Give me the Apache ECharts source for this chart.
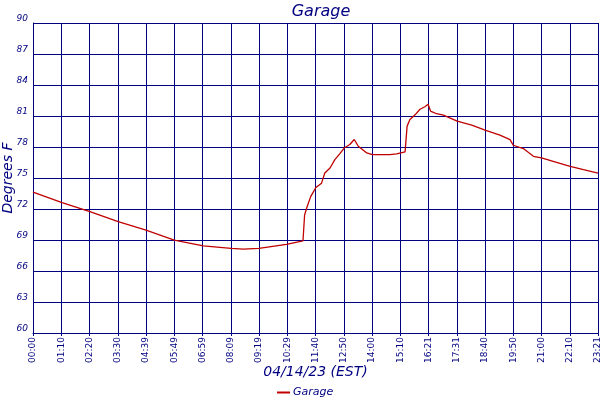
<!DOCTYPE html>
<html>
<head>
<meta charset="utf-8">
<script src="https://cdn.jsdelivr.net/npm/echarts@6/dist/echarts.min.js"></script>
<style>
  html, body { margin: 0; padding: 0; background: #fff; }
  #main { width: 600px; height: 400px; }
</style>
</head>
<body>
<div id="main"></div>
<script>
// time ticks every 70 minutes, as printed under the chart
var tickLabels = ['00:00', '01:10', '02:20', '03:30', '04:39', '05:49', '06:59', '08:09', '09:19', '10:29',
  '11:40', '12:50', '14:00', '15:10', '16:21', '17:31', '18:40', '19:50', '21:00', '22:10', '23:21'];

// minutes since midnight
var minutes = [0, 72, 141, 211, 280, 350, 422, 491, 521, 560, 628, 669, 672,
  673, 678, 688, 701, 715, 723, 736, 748, 760, 771, 785, 796, 806, 827, 841, 884, 901, 922, 924,
  927, 934, 946, 959, 971, 979, 985, 1000, 1017, 1051, 1087, 1122, 1157, 1182, 1190, 1215,
  1240, 1260, 1289, 1331, 1364, 1400];

// garage temperature, degrees F
var temps = [73.63, 72.62, 71.74, 70.77, 69.96, 68.99, 68.43, 68.18, 68.11, 68.18, 68.57, 68.92, 68.96,
  71.42, 72.07, 73.2, 74.08, 74.5, 75.48, 75.97, 76.78, 77.33, 77.9, 78.24, 78.73, 78.07, 77.43, 77.26, 77.26, 77.33, 77.53, 77.53,
  80.02, 80.67, 81.09, 81.65, 81.9, 82.13, 81.48, 81.22, 81.09, 80.5, 80.12, 79.6, 79.14, 78.72, 78.17, 77.85,
  77.1, 76.94, 76.61, 76.12, 75.8, 75.48];

var navy = '#000080';
var chart = echarts.init(document.getElementById('main'));

var points = [];
for (var i = 0; i < minutes.length; i++) {
  points.push([minutes[i], temps[i]]);
}

var option = {
  backgroundColor: '#fff',
  animation: false,
  title: {
    text: 'Garage',
    left: 316,
    textAlign: 'center',
    top: -1,
    textStyle: {
      color: navy,
      fontFamily: 'DejaVu Sans',
      fontStyle: 'italic',
      fontWeight: 'normal',
      fontSize: 16
    }
  },
  legend: {
    bottom: -3,
    left: 272,
    icon: 'rect',
    itemWidth: 13,
    itemHeight: 2,
    itemGap: 4,
    textStyle: {
      color: navy,
      fontFamily: 'DejaVu Sans',
      fontStyle: 'italic',
      fontSize: 11,
      padding: [0, 0, 0, -2]
    },
    data: ['Garage']
  },
  grid: {
    left: 33,
    right: 2,
    top: 23,
    bottom: 67,
    outerBoundsMode: 'none'
  },
  xAxis: {
    type: 'value',
    min: 0,
    max: 1400,
    interval: 70,
    name: '04/14/23 (EST)',
    nameLocation: 'middle',
    nameGap: 32,
    nameMoveOverlap: false,
    nameTextStyle: {
      color: navy,
      fontFamily: 'DejaVu Sans',
      fontStyle: 'italic',
      fontSize: 14
    },
    axisLine: { lineStyle: { color: navy, width: 1 } },
    axisTick: { show: true, length: 3, lineStyle: { color: navy } },
    splitLine: { show: true, lineStyle: { color: navy, width: 1 } },
    axisLabel: {
      rotate: 90,
      color: navy,
      fontFamily: 'DejaVu Sans',
      fontSize: 9,
      margin: 4,
      showMinLabel: true,
      showMaxLabel: true,
      formatter: function (v) {
        return tickLabels[Math.round(v / 70)];
      }
    }
  },
  yAxis: {
    type: 'value',
    min: 60,
    max: 90,
    interval: 3,
    name: 'Degrees F',
    nameLocation: 'middle',
    nameRotate: 90,
    nameGap: 18,
    nameMoveOverlap: false,
    nameTextStyle: {
      color: navy,
      fontFamily: 'DejaVu Sans',
      fontStyle: 'italic',
      fontSize: 14
    },
    axisLine: { show: true, lineStyle: { color: navy, width: 1 } },
    axisTick: { show: false },
    splitLine: { show: true, lineStyle: { color: navy, width: 1 } },
    axisLabel: {
      color: navy,
      fontFamily: 'DejaVu Sans',
      fontStyle: 'italic',
      fontSize: 9,
      margin: 5,
      verticalAlign: 'bottom'
    }
  },
  series: [{
    name: 'Garage',
    type: 'line',
    data: points,
    showSymbol: false,
    color: '#c00000',
    lineStyle: { color: '#c00000', width: 1.3 }
  }]
};

chart.setOption(option);
</script>
</body>
</html>
